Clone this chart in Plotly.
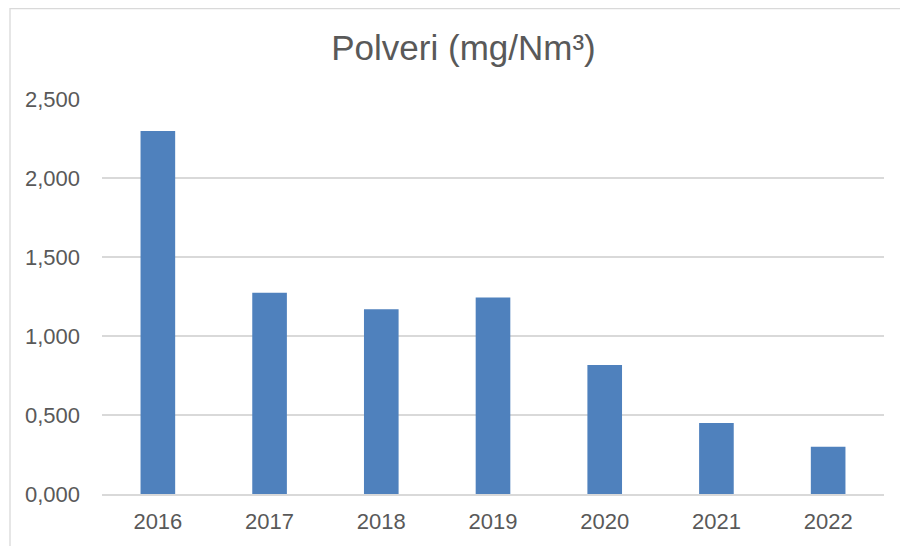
import plotly.graph_objects as go

years = ["2016", "2017", "2018", "2019", "2020", "2021", "2022"]
values = [2.297, 1.273, 1.169, 1.244, 0.817, 0.450, 0.299]
y_ticks = [0, 0.5, 1.0, 1.5, 2.0, 2.5]

W, H = 900, 546
L, R, T, B = 102, 16, 98.5, 51.7

fig = go.Figure(go.Bar(
    x=years, y=values,
    marker=dict(color="#4F81BD", line=dict(width=0)),
))

fig.update_layout(
    width=W, height=H,
    margin=dict(l=L, r=R, t=T, b=B, pad=0, autoexpand=False),
    paper_bgcolor="white", plot_bgcolor="white",
    bargap=0.69,
    separators=",.",
    showlegend=False,
    font=dict(family="Liberation Sans, Arial, sans-serif", color="#595959", size=22),
    title=dict(
        text="Polveri (mg/Nm³)",
        font=dict(size=35, color="#595959"),
        x=463.5 / W, xref="container", xanchor="center",
        y=1 - 48 / H, yref="container", yanchor="middle",
    ),
    xaxis=dict(
        showgrid=False, showline=True, linecolor="#D9D9D9", linewidth=1.5,
        ticks="", ticklabelstandoff=7, automargin=False,
        tickfont=dict(size=22, color="#595959"),
    ),
    yaxis=dict(
        range=[0, 2.5], tickvals=y_ticks, tickformat=".3f",
        showgrid=True, gridcolor="#D9D9D9", gridwidth=1.5,
        zeroline=False, showline=False, automargin=False,
        ticks="", ticklabelstandoff=21,
        tickfont=dict(size=22, color="#595959"),
    ),
    shapes=[dict(
        type="rect", xref="paper", yref="paper",
        x0=(10 - L) / (W - L - R), x1=(W + 20 - L) / (W - L - R),
        y0=(H - B - (H + 20)) / (H - T - B), y1=(H - B - 8) / (H - T - B),
        line=dict(color="#D9D9D9", width=1.3), fillcolor="rgba(0,0,0,0)",
        layer="below",
    )],
)

fig.write_html(
    "out.html",
    config={"displayModeBar": False},
    post_script="document.body.style.margin='0';document.body.style.overflow='hidden';",
)
